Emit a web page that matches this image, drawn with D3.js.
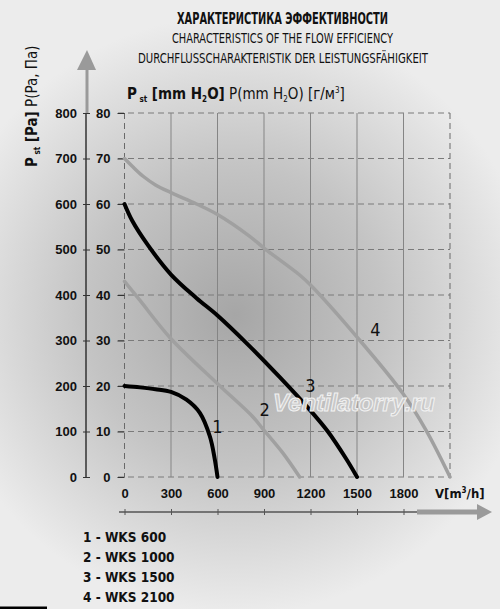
<!DOCTYPE html>
<html>
<head>
<meta charset="utf-8">
<script src="https://cdn.jsdelivr.net/npm/d3@7"></script>
<style>
  body { margin: 0; background: #e9e9e9; }
  svg { display: block; font-family: "Liberation Sans Narrow", "DejaVu Sans Condensed", sans-serif; }
</style>
</head>
<body>
<div id="chart"></div>
<script>
// values
const titleLines = [
  "ХАРАКТЕРИСТИКА ЭФФЕКТИВНОСТИ",
  "CHARACTERISTICS OF THE FLOW EFFICIENCY",
  "DURCHFLUSSCHARAKTERISTIK DER LEISTUNGSFÄHIGKEIT"
];
const flowTicks = [0, 300, 600, 900, 1200, 1500, 1800];
const paTicks = [0, 100, 200, 300, 400, 500, 600, 700, 800];
const mmTicks = [0, 10, 20, 30, 40, 50, 60, 70, 80];
const legendNames = ["1 - WKS 600", "2 - WKS 1000", "3 - WKS 1500", "4 - WKS 2100"];
const curveNumbers = ["1", "2", "3", "4"];

// [flow m3/h, pressure Pa]
const wks600 = [[0, 200], [100, 197], [200, 193], [300, 187], [400, 170], [486, 141], [551, 89], [582, 40], [600, 0]];
const wks1000 = [[0, 430], [100, 388], [297, 305], [597, 206], [829, 132], [892, 106], [1021, 53], [1130, 0]];
const wks1500 = [[0, 600], [50, 563], [150, 510], [300, 445], [465, 393], [600, 355], [800, 290], [1000, 220], [1200, 146], [1312, 100], [1430, 40], [1500, 0]];
const wks2100 = [[0, 700], [50, 683], [120, 661], [200, 642], [300, 625], [465, 600], [600, 577], [808, 529], [904, 502], [1130, 444], [1200, 422], [1499, 308], [1795, 184], [1945, 103], [2100, 0]];

// where the curve numbers sit, in data units
const numberAt = [[600, 110], [904, 147], [1200, 199], [1618, 324]];

const W = 500, H = 609;

const svg = d3.select("#chart").append("svg")
  .attr("width", W)
  .attr("height", H);

// background shading
const defs = svg.append("defs");
const grad = defs.append("radialGradient")
  .attr("id", "bg")
  .attr("gradientUnits", "userSpaceOnUse")
  .attr("cx", 235).attr("cy", 315).attr("r", 300);
grad.append("stop").attr("offset", 0).attr("stop-color", "#a6a6a6");
grad.append("stop").attr("offset", 0.5).attr("stop-color", "#c4c4c4");
grad.append("stop").attr("offset", 1).attr("stop-color", "#ececec");

svg.append("rect").attr("width", W).attr("height", H).attr("fill", "url(#bg)");

const x = d3.scaleLinear().domain([0, 2100]).range([124.5, 450]);
const y = d3.scaleLinear().domain([0, 800]).range([477, 113]);
const yMm = d3.scaleLinear().domain([0, 80]).range([477, 113]);

// grid
const grid = svg.append("g");
grid.selectAll(".hgrid")
  .data(paTicks)
  .enter().append("line")
  .attr("x1", 118).attr("x2", x(2100))
  .attr("y1", d => y(d)).attr("y2", d => y(d))
  .attr("stroke", "#7a7a7a")
  .attr("stroke-width", 1)
  .attr("stroke-dasharray", "6,4");

grid.selectAll(".vgrid")
  .data(flowTicks.filter(d => d > 0))
  .enter().append("line")
  .attr("x1", d => x(d)).attr("x2", d => x(d))
  .attr("y1", y(800)).attr("y2", y(0))
  .attr("stroke", "#858585")
  .attr("stroke-width", 1);

grid.selectAll(".vedge")
  .data([0, 2100])
  .enter().append("line")
  .attr("x1", d => x(d)).attr("x2", d => x(d))
  .attr("y1", y(800)).attr("y2", y(0))
  .attr("stroke", "#6a6a6a")
  .attr("stroke-width", 1)
  .attr("stroke-dasharray", "6,4");

// outer Pa axis
svg.append("line")
  .attr("x1", 87).attr("x2", 87).attr("y1", 70).attr("y2", 113)
  .attr("stroke", "#9a9a9a").attr("stroke-width", 3);
svg.append("path")
  .attr("d", "M77,70 L87,50 L96,70 Z")
  .attr("fill", "#9a9a9a");
svg.append("line")
  .attr("x1", 86).attr("x2", 86).attr("y1", 113).attr("y2", 478)
  .attr("stroke", "#333").attr("stroke-width", 1.5);

const outer = svg.append("g")
  .attr("transform", "translate(86,0)")
  .call(d3.axisLeft(y).tickValues(paTicks).tickFormat(d3.format("d")).tickSize(3).tickPadding(6));
outer.select(".domain").remove();
outer.selectAll(".tick line").attr("x1", 4).attr("stroke", "#333");
outer.selectAll(".tick text")
  .attr("font-size", 13).attr("font-weight", "bold").attr("fill", "#111")
  .attr("font-family", null);

// inner mm H2O axis
const inner = svg.append("g")
  .attr("transform", `translate(${x(0)},0)`)
  .call(d3.axisLeft(yMm).tickValues(mmTicks).tickFormat(d3.format("d")).tickSize(7).tickPadding(7));
inner.select(".domain").remove();
inner.selectAll(".tick line").attr("stroke", "#333");
inner.selectAll(".tick text")
  .attr("font-size", 13).attr("font-weight", "bold").attr("fill", "#111")
  .attr("font-family", null);

// flow axis
svg.append("line")
  .attr("x1", 119).attr("x2", 417).attr("y1", 512).attr("y2", 512)
  .attr("stroke", "#555").attr("stroke-width", 1.5);
svg.append("line")
  .attr("x1", 417).attr("x2", 478).attr("y1", 512).attr("y2", 512)
  .attr("stroke", "#9a9a9a").attr("stroke-width", 5);
svg.append("path")
  .attr("d", "M477,504 L492,512 L477,520 Z")
  .attr("fill", "#9a9a9a");

const bottom = svg.append("g")
  .attr("transform", "translate(0,512)")
  .call(d3.axisTop(x).tickValues(flowTicks).tickFormat(d3.format("d")).tickSize(3).tickPadding(11));
bottom.select(".domain").remove();
bottom.selectAll(".tick line").attr("y1", 3).attr("stroke", "#555");
bottom.selectAll(".tick text")
  .attr("font-size", 13).attr("font-weight", "bold").attr("fill", "#111")
  .attr("font-family", null);

const vLabel = svg.append("text")
  .attr("x", 435).attr("y", 498)
  .attr("font-size", 13).attr("font-weight", "bold").attr("fill", "#111");
vLabel.append("tspan").text("V[m");
vLabel.append("tspan").attr("font-size", 8).attr("dy", -5).text("3");
vLabel.append("tspan").attr("dy", 5).text("/h]");

// curves
const line = d3.line()
  .x(d => x(d[0]))
  .y(d => y(d[1]))
  .curve(d3.curveCatmullRom.alpha(0.5));

const series = [
  { data: wks2100, color: "#a0a0a0", width: 3.5 },
  { data: wks1000, color: "#a0a0a0", width: 3.5 },
  { data: wks1500, color: "#000", width: 4 },
  { data: wks600, color: "#000", width: 4 }
];

svg.append("g").selectAll("path")
  .data(series)
  .enter().append("path")
  .attr("d", d => line(d.data))
  .attr("fill", "none")
  .attr("stroke", d => d.color)
  .attr("stroke-width", d => d.width)
  .attr("stroke-linecap", "round");

// watermark
svg.append("text")
  .attr("x", 273).attr("y", 411)
  .attr("textLength", 162).attr("lengthAdjust", "spacingAndGlyphs")
  .attr("font-size", 23).attr("font-style", "italic").attr("font-weight", "bold")
  .attr("font-family", "Liberation Sans, sans-serif")
  .attr("fill", "#c8c8c8").attr("stroke", "#f2f2f2").attr("stroke-width", 1)
  .text("Ventilatorry.ru");

// curve numbers
svg.append("g").selectAll("text")
  .data(curveNumbers)
  .enter().append("text")
  .attr("x", (d, i) => x(numberAt[i][0]))
  .attr("y", (d, i) => y(numberAt[i][1]) + 6)
  .attr("text-anchor", "middle")
  .attr("font-size", 18)
  .attr("fill", "#111")
  .text(d => d);

// titles
const titleSpec = [
  { y: 24, x0: 177, w: 211, size: 15, weight: "bold" },
  { y: 43, x0: 172, w: 221, size: 14.5, weight: "normal" },
  { y: 63, x0: 138, w: 290, size: 14.5, weight: "normal" }
];
svg.append("g").selectAll("text")
  .data(titleLines)
  .enter().append("text")
  .attr("x", (d, i) => titleSpec[i].x0)
  .attr("y", (d, i) => titleSpec[i].y)
  .attr("textLength", (d, i) => titleSpec[i].w)
  .attr("lengthAdjust", "spacingAndGlyphs")
  .attr("font-size", (d, i) => titleSpec[i].size)
  .attr("font-weight", (d, i) => titleSpec[i].weight)
  .attr("fill", "#111")
  .text(d => d);

// mm H2O heading
const sub = svg.append("text")
  .attr("x", 127).attr("y", 99)
  .attr("font-size", 15).attr("fill", "#111");
sub.append("tspan").attr("font-weight", "bold").text("P");
sub.append("tspan").attr("font-weight", "bold").attr("font-size", 8).attr("dy", 3).text(" st");
sub.append("tspan").attr("font-weight", "bold").attr("dy", -3).text(" [mm H");
sub.append("tspan").attr("font-weight", "bold").attr("font-size", 8).attr("dy", 3).text("2");
sub.append("tspan").attr("font-weight", "bold").attr("dy", -3).text("O]");
sub.append("tspan").text(" P(mm H");
sub.append("tspan").attr("font-size", 8).attr("dy", 3).text("2");
sub.append("tspan").attr("dy", -3).text("O) [г/м");
sub.append("tspan").attr("font-size", 8).attr("dy", -6).text("3");
sub.append("tspan").attr("dy", 6).text("]");

// Pa heading, rotated
const yTitle = svg.append("text")
  .attr("transform", "translate(37,167) rotate(-90)")
  .attr("font-size", 15).attr("fill", "#111");
yTitle.append("tspan").attr("font-weight", "bold").text("P");
yTitle.append("tspan").attr("font-weight", "bold").attr("font-size", 8).attr("dy", 3).text(" st");
yTitle.append("tspan").attr("font-weight", "bold").attr("dy", -3).text(" [Pa]");
yTitle.append("tspan").text(" P(Pa, Па)");

// legend
svg.append("g").selectAll("text")
  .data(legendNames)
  .enter().append("text")
  .attr("x", 83)
  .attr("y", (d, i) => 542 + i * 20)
  .attr("font-size", 13.5)
  .attr("font-weight", "bold")
  .attr("fill", "#111")
  .text(d => d);

svg.append("rect")
  .attr("x", 0).attr("y", 606.5)
  .attr("width", 47).attr("height", 2.5)
  .attr("fill", "#000");
</script>
</body>
</html>
